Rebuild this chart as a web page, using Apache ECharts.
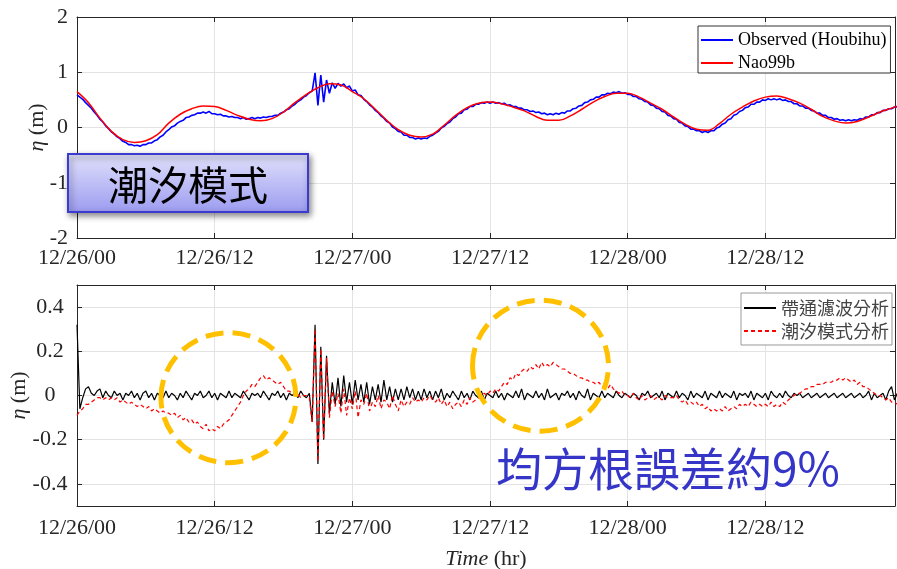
<!DOCTYPE html>
<html>
<head>
<meta charset="utf-8">
<script src="https://cdn.jsdelivr.net/npm/echarts@6/dist/echarts.min.js"></script>
<style>
  html, body { margin: 0; padding: 0; background: #fff; }
  #chart { width: 897px; height: 569px; }
</style>
</head>
<body>
<div id="chart"></div>
<script>
// hours since 12/26 00:00
const hourTicks = [0, 12, 24, 36, 48, 60];
const tickLabels = ['12/26/00', '12/26/12', '12/27/00', '12/27/12', '12/28/00', '12/28/12'];
const X_MAX = 71.3;
const STEP = 0.25; // sampling of the observed / residual records (hours)

// Nao99b tide model, one value per hour
const nao99b = [
  0.65, 0.45, 0.17, -0.07, -0.22, -0.27, -0.24, -0.13, 0.08, 0.24,
  0.34, 0.39, 0.38, 0.31, 0.22, 0.15, 0.12, 0.16, 0.28, 0.45,
  0.60, 0.72, 0.79, 0.77, 0.65, 0.52, 0.33, 0.13, -0.04, -0.14,
  -0.17, -0.12, 0.04, 0.22, 0.36, 0.44, 0.46, 0.43, 0.37, 0.30,
  0.20, 0.13, 0.13, 0.21, 0.33, 0.46, 0.56, 0.62, 0.62, 0.55,
  0.44, 0.33, 0.19, 0.06, -0.03, -0.05, 0.07, 0.24, 0.37, 0.48,
  0.55, 0.57, 0.52, 0.44, 0.33, 0.20, 0.12, 0.08, 0.11, 0.19,
  0.28, 0.35, 0.42
];

// observed water level at Houbihu, 4 samples per hour
const observed = [
  0.59, 0.55, 0.51, 0.45,   0.40, 0.35, 0.28, 0.22,   0.15, 0.10, 0.03, -0.02,
  -0.08, -0.12, -0.17, -0.20,   -0.25, -0.27, -0.31, -0.31,   -0.33, -0.32, -0.34, -0.31,
  -0.31, -0.28, -0.28, -0.24,   -0.22, -0.17, -0.14, -0.08,   -0.04, 0.01, 0.03, 0.08,
  0.11, 0.13, 0.18, 0.19,   0.22, 0.23, 0.26, 0.26,   0.28, 0.26, 0.29, 0.25,
  0.25, 0.23, 0.24, 0.21,   0.21, 0.19, 0.20, 0.18,   0.18, 0.16, 0.18, 0.15,
  0.16, 0.18, 0.16, 0.18,   0.17, 0.19, 0.18, 0.20,   0.20, 0.22, 0.22, 0.26,
  0.28, 0.32, 0.34, 0.39,   0.42, 0.47, 0.50, 0.55,   0.58, 0.63, 0.66, 0.99,
  0.40, 0.95, 0.46, 0.86,   0.62, 0.81, 0.71, 0.80,   0.75, 0.79, 0.72, 0.75,
  0.66, 0.68, 0.59, 0.58,   0.51, 0.47, 0.41, 0.37,   0.31, 0.27, 0.21, 0.17,
  0.11, 0.08, 0.01, -0.02,   -0.07, -0.08, -0.14, -0.14,   -0.18, -0.18, -0.21, -0.19,
  -0.21, -0.19, -0.20, -0.16,   -0.14, -0.10, -0.07, -0.01,   0.02, 0.07, 0.10, 0.16,
  0.19, 0.25, 0.26, 0.32,   0.33, 0.38, 0.38, 0.42,   0.42, 0.45, 0.44, 0.46,
  0.44, 0.46, 0.44, 0.45,   0.43, 0.44, 0.40, 0.41,   0.38, 0.38, 0.35, 0.35,
  0.32, 0.32, 0.29, 0.30,   0.27, 0.28, 0.25, 0.26,   0.23, 0.25, 0.23, 0.26,
  0.24, 0.27, 0.26, 0.30,   0.30, 0.34, 0.35, 0.39,   0.40, 0.45, 0.46, 0.50,
  0.51, 0.55, 0.55, 0.59,   0.59, 0.62, 0.61, 0.64,   0.63, 0.65, 0.62, 0.63,
  0.60, 0.60, 0.56, 0.56,   0.52, 0.51, 0.47, 0.46,   0.41, 0.40, 0.35, 0.34,
  0.29, 0.28, 0.22, 0.21,   0.16, 0.15, 0.09, 0.08,   0.03, 0.02, -0.03, -0.03,
  -0.06, -0.06, -0.09, -0.07,   -0.09, -0.06, -0.06, -0.01,   0.01, 0.06, 0.08, 0.14,
  0.16, 0.22, 0.24, 0.29,   0.31, 0.36, 0.37, 0.42,   0.42, 0.46, 0.46, 0.50,
  0.49, 0.52, 0.50, 0.52,   0.50, 0.52, 0.49, 0.50,   0.47, 0.47, 0.43, 0.43,
  0.39, 0.39, 0.35, 0.35,   0.31, 0.30, 0.26, 0.26,   0.22, 0.22, 0.18, 0.18,
  0.15, 0.16, 0.13, 0.14,   0.12, 0.14, 0.12, 0.14,   0.13, 0.16, 0.15, 0.19,
  0.19, 0.23, 0.23, 0.27,   0.27, 0.31, 0.31, 0.34,   0.34, 0.37, 0.37, 0.39
];

// band-pass filtered record, 4 samples per hour
const bandPass = [
  0.32, -0.06, -0.01, 0.03,   0.04, 0.01, 0.00, 0.02,   0.03, -0.01, 0.02, 0.00,
  -0.01, 0.02, 0.00, 0.01,   -0.02, 0.01, 0.00, 0.02,   -0.01, 0.01, -0.02, 0.01,
  0.02, -0.01, 0.01, -0.02,   0.01, 0.00, -0.01, 0.02,   -0.01, 0.01, 0.00, -0.02,
  0.01, -0.01, 0.02, 0.00,   -0.02, 0.01, 0.00, 0.02,   -0.01, 0.00, 0.02, -0.01,
  0.01, -0.02, 0.01, 0.00,   -0.01, 0.02, -0.01, 0.01,   0.00, -0.01, 0.02, 0.00,
  -0.02, 0.01, 0.00, 0.01,   -0.01, 0.02, 0.00, -0.02,   0.01, 0.00, 0.02, -0.01,
  0.01, -0.02, 0.01, 0.00,   0.01, -0.01, 0.02, 0.00,   -0.01, 0.01, -0.12, 0.32,
  -0.31, 0.22, -0.20, 0.18,   -0.08, 0.06, -0.04, 0.08,   -0.05, 0.09, -0.03, 0.06,
  -0.04, 0.07, -0.02, 0.05,   -0.03, 0.06, -0.04, 0.04,   -0.02, 0.05, -0.03, 0.07,
  -0.02, 0.04, -0.03, 0.03,   -0.02, 0.03, -0.02, 0.04,   -0.01, 0.03, -0.02, 0.02,
  -0.02, 0.03, -0.01, 0.02,   -0.02, 0.02, -0.01, 0.03,   -0.02, 0.01, -0.01, 0.02,
  0.00, -0.02, 0.02, -0.01,   0.01, -0.02, 0.02, 0.00,   -0.01, 0.02, -0.02, 0.01,
  0.00, -0.01, 0.02, -0.01,   0.01, -0.02, 0.01, 0.00,   -0.01, 0.02, -0.01, 0.03,
  -0.02, 0.01, 0.00, -0.01,   0.02, -0.01, 0.01, -0.02,   0.03, -0.01, 0.00, 0.01,
  -0.02, 0.01, 0.00, 0.02,   -0.01, 0.01, -0.02, 0.02,   0.00, -0.01, 0.03, -0.02,
  0.01, 0.00, -0.01, 0.02,   -0.01, 0.01, 0.00, -0.01,   0.02, 0.00, -0.01, 0.01,
  0.00, -0.01, 0.01, 0.00,   -0.02, 0.01, 0.00, 0.02,   -0.01, 0.00, 0.01, -0.01,
  0.02, -0.02, 0.01, 0.00,   -0.01, 0.02, -0.01, 0.01,   0.00, -0.02, 0.02, -0.01,
  0.01, 0.00, -0.01, 0.02,   -0.02, 0.01, 0.00, -0.01,   0.02, -0.01, 0.01, 0.00,
  -0.01, 0.02, -0.02, 0.01,   0.00, 0.01, -0.01, 0.02,   -0.02, 0.01, 0.00, -0.01,
  0.01, -0.02, 0.02, 0.00,   -0.01, 0.01, -0.01, 0.02,   0.00, -0.01, 0.01, 0.00,
  0.01, -0.01, 0.00, 0.01,   -0.01, 0.00, 0.01, -0.01,   0.00, 0.01, -0.01, 0.00,
  0.01, -0.01, 0.00, 0.01,   -0.01, 0.00, 0.01, -0.01,   0.00, 0.01, -0.01, 0.00,
  0.02, -0.02, 0.01, -0.01,   0.00, 0.01, -0.02, 0.02,   0.04, -0.02, 0.01, -0.03
];

// observed minus tide model, 4 samples per hour
const tideResidual = [
  -0.09, -0.07, -0.06, -0.04,   -0.04, -0.03, -0.02, -0.01,   -0.01, -0.02, -0.01, -0.02,
  -0.01, -0.02, -0.01, -0.03,   -0.02, -0.03, -0.04, -0.03,   -0.04, -0.05, -0.04, -0.05,
  -0.06, -0.05, -0.07, -0.06,   -0.07, -0.08, -0.07, -0.08,   -0.08, -0.09, -0.08, -0.10,
  -0.09, -0.11, -0.10, -0.12,   -0.11, -0.13, -0.12, -0.14,   -0.15, -0.13, -0.16, -0.15,
  -0.16, -0.14, -0.15, -0.13,   -0.12, -0.11, -0.09, -0.07,   -0.05, -0.03, 0.00, 0.02,
  0.03, 0.05, 0.04, 0.06,   0.08, 0.09, 0.07, 0.08,   0.07, 0.06, 0.05, 0.06,
  0.04, 0.02, 0.02, 0.01,   0.00, 0.01, -0.01, 0.00,   0.00, -0.01, -0.12, 0.30,
  -0.30, 0.21, -0.20, 0.17,   -0.10, 0.02, -0.05, 0.01,   -0.08, 0.03, -0.09, -0.01,
  -0.06, 0.02, -0.10, -0.02,   -0.04, 0.01, -0.07, -0.03,   -0.05, 0.00, -0.06, -0.02,
  -0.03, -0.06, 0.00, -0.04,   -0.07, -0.02, -0.05, -0.03,   -0.04, -0.01, -0.03, -0.02,
  -0.03, -0.01, -0.02, 0.00,   -0.02, -0.03, -0.01, -0.04,   -0.02, -0.05, -0.03, -0.06,
  -0.04, -0.03, -0.05, -0.02,   -0.04, -0.01, -0.03, -0.02,   -0.01, 0.00, 0.01, 0.00,
  0.02, 0.01, 0.03, 0.02,   0.04, 0.06, 0.05, 0.08,   0.07, 0.10, 0.09, 0.11,
  0.12, 0.11, 0.13, 0.12,   0.14, 0.12, 0.15, 0.13,   0.14, 0.13, 0.15, 0.14,
  0.13, 0.12, 0.12, 0.11,   0.10, 0.10, 0.09, 0.08,   0.08, 0.07, 0.07, 0.06,
  0.06, 0.05, 0.06, 0.04,   0.04, 0.03, 0.05, 0.03,   0.02, 0.01, 0.02, 0.00,
  0.00, -0.01, 0.01, -0.01,   -0.02, 0.00, -0.02, -0.01,   0.00, -0.02, -0.01, -0.01,
  -0.02, 0.00, -0.01, -0.01,   -0.01, 0.00, -0.02, -0.03,   -0.02, -0.04, -0.03, -0.04,
  -0.03, -0.05, -0.04, -0.06,   -0.05, -0.07, -0.06, -0.07,   -0.06, -0.07, -0.05, -0.07,
  -0.06, -0.05, -0.06, -0.04,   -0.05, -0.04, -0.05, -0.03,   -0.04, -0.05, -0.04, -0.05,
  -0.04, -0.05, -0.03, -0.05,   -0.04, -0.05, -0.03, -0.04,   -0.02, -0.01, 0.00, 0.01,
  0.01, 0.02, 0.03, 0.03,   0.04, 0.04, 0.05, 0.05,   0.05, 0.06, 0.06, 0.06,
  0.07, 0.07, 0.08, 0.07,   0.08, 0.07, 0.06, 0.07,   0.05, 0.06, 0.04, 0.04,
  0.03, 0.02, 0.01, 0.00,   0.00, -0.01, -0.02, -0.01,   -0.03, -0.03, -0.04, -0.04
];

const serif = '"Liberation Serif", "Times New Roman", serif';
const cjk = '"Noto Sans CJK TC", "Noto Sans CJK SC", sans-serif';
const ink = '#262626';
const gridLine = '#e3e3e3';

const sampled = arr => arr.map((v, i) => [i * STEP, v]);
const hourly = arr => arr.map((v, i) => [i, v]);

function xPair(gridIndex, labelMargin) {
  const common = {
    type: 'value', gridIndex, min: 0, max: X_MAX, interval: 12,
    axisLine: { show: true, onZero: false, lineStyle: { color: ink, width: 1 } },
    axisTick: { show: true, inside: true, length: 5, lineStyle: { color: ink } }
  };
  return [
    Object.assign({}, common, {
      position: 'bottom',
      axisLabel: {
        margin: labelMargin, fontFamily: serif, fontSize: 22, color: ink,
        showMaxLabel: false,
        formatter: v => { const k = hourTicks.indexOf(v); return k >= 0 ? tickLabels[k] : ''; }
      },
      splitLine: { show: true, lineStyle: { color: gridLine, width: 1 } }
    }),
    Object.assign({}, common, { position: 'top', axisLabel: { show: false }, splitLine: { show: false } })
  ];
}

function yPair(gridIndex, range, label, nameGap) {
  const common = Object.assign({
    type: 'value', gridIndex,
    axisLine: { show: true, onZero: false, lineStyle: { color: ink, width: 1 } },
    axisTick: { show: true, inside: true, length: 5, lineStyle: { color: ink } }
  }, range);
  return [
    Object.assign({}, common, {
      position: 'left',
      name: '{it|η} (m)', nameLocation: 'middle', nameGap, nameMoveOverlap: false,
      nameTextStyle: {
        fontFamily: serif, fontSize: 22, color: ink,
        rich: { it: { fontFamily: serif, fontSize: 22, fontStyle: 'italic', color: ink } }
      },
      axisLabel: Object.assign({ fontFamily: serif, fontSize: 22, color: ink }, label),
      splitLine: { show: true, lineStyle: { color: gridLine, width: 1 } }
    }),
    Object.assign({}, common, { position: 'right', axisLabel: { show: false }, splitLine: { show: false } })
  ];
}

const chart = echarts.init(document.getElementById('chart'));

chart.setOption({
  animation: false,
  backgroundColor: '#fff',
  grid: [
    { left: 77, right: 2, top: 17, height: 221, outerBoundsMode: 'none' },
    { left: 77, right: 2, top: 285, height: 221, outerBoundsMode: 'none' }
  ],
  xAxis: [
    ...xPair(0, 9),
    ...xPair(1, 11).map((a, i) => i === 0 ? Object.assign(a, {
      name: '{it|Time} (hr)', nameLocation: 'middle', nameGap: 42, nameMoveOverlap: false,
      nameTextStyle: {
        fontFamily: serif, fontSize: 22, color: ink,
        rich: { it: { fontFamily: serif, fontSize: 22, fontStyle: 'italic', color: ink } }
      }
    }) : a)
  ],
  yAxis: [
    ...yPair(0, { min: -2, max: 2, interval: 1 }, { margin: 9 }, 29),
    ...yPair(1, { min: -0.5, max: 0.5, minInterval: 0.2, maxInterval: 0.2 },
      { margin: 27, align: 'center', showMinLabel: false, showMaxLabel: false }, 47)
  ],
  legend: [
    {
      data: ['Observed (Houbihu)', 'Nao99b'],
      orient: 'vertical', left: 698, top: 26,
      itemWidth: 32, itemHeight: 12, itemGap: 5,
      padding: [5, 4, 1, 2],
      itemStyle: { opacity: 0 },
      borderColor: '#333', borderWidth: 1, backgroundColor: '#fff',
      textStyle: { fontFamily: serif, fontSize: 18, color: '#000' }
    },
    {
      data: ['帶通濾波分析', '潮汐模式分析'],
      orient: 'vertical', left: 741, top: 293,
      itemWidth: 32, itemHeight: 12, itemGap: 5,
      padding: [6, 3, 5, 2],
      itemStyle: { opacity: 0 },
      borderColor: '#999', borderWidth: 1, backgroundColor: '#fff',
      textStyle: { fontFamily: cjk, fontSize: 18, color: '#444' }
    }
  ],
  series: [
    {
      name: 'Observed (Houbihu)', type: 'line', xAxisIndex: 0, yAxisIndex: 0,
      data: sampled(observed), symbol: 'none', clip: true,
      lineStyle: { color: '#0000ff', width: 1.6 }, itemStyle: { color: '#0000ff' }
    },
    {
      name: 'Nao99b', type: 'line', xAxisIndex: 0, yAxisIndex: 0,
      data: hourly(nao99b), symbol: 'none', smooth: 0.4, clip: true,
      lineStyle: { color: '#ff0000', width: 1.5 }, itemStyle: { color: '#ff0000' }
    },
    {
      name: '帶通濾波分析', type: 'line', xAxisIndex: 2, yAxisIndex: 2,
      data: sampled(bandPass), symbol: 'none', clip: true,
      lineStyle: { color: '#000', width: 1.2 }, itemStyle: { color: '#000' }
    },
    {
      name: '潮汐模式分析', type: 'line', xAxisIndex: 2, yAxisIndex: 2,
      data: sampled(tideResidual), symbol: 'none', clip: true,
      lineStyle: { color: '#ff0000', width: 1.2, type: [4, 3] }, itemStyle: { color: '#ff0000' }
    }
  ]
});

// dashed highlight rings, anchored in data coordinates of the lower panel
const rings = [
  { at: [13.2, -0.01], rx: 67.5, ry: 65 },
  { at: [40.4, 0.135], rx: 68, ry: 65.5 }
];

const ringShapes = rings.map(r => {
  const [cx, cy] = chart.convertToPixel({ gridIndex: 1 }, r.at);
  return {
    type: 'ellipse', z: 50,
    shape: { cx, cy, rx: r.rx, ry: r.ry },
    style: { fill: 'none', stroke: '#ffc000', lineWidth: 5, lineDash: [18, 9] }
  };
});

chart.setOption({
  graphic: [
    ...ringShapes,
    {
      type: 'rect', z: 60,
      shape: { x: 68, y: 154, width: 240, height: 58 },
      style: {
        fill: new echarts.graphic.LinearGradient(0, 0, 0, 1, [
          { offset: 0, color: '#e2e2fc' },
          { offset: 1, color: '#9b9bf0' }
        ]),
        stroke: '#3b3bd0', lineWidth: 2,
        shadowBlur: 6, shadowOffsetX: 2, shadowOffsetY: 3, shadowColor: 'rgba(0,0,0,0.45)'
      }
    },
    {
      type: 'text', z: 61, x: 188, y: 185,
      style: { text: '潮汐模式', fontFamily: cjk, fontSize: 40, fill: '#000', align: 'center', verticalAlign: 'middle' }
    },
    {
      type: 'text', z: 61, x: 668, y: 469,
      style: { text: '均方根誤差約9%', fontFamily: cjk, fontSize: 46, fill: '#3535c8', align: 'center', verticalAlign: 'middle' }
    }
  ]
});
</script>
</body>
</html>
